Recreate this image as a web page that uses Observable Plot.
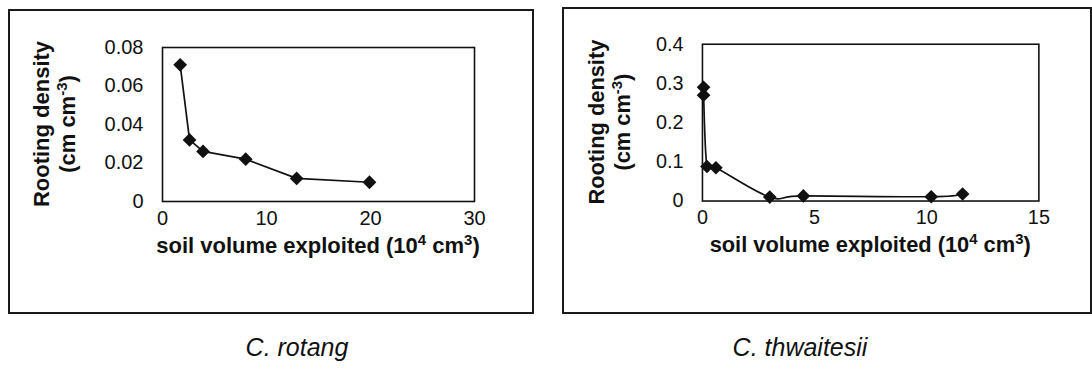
<!DOCTYPE html>
<html><head><meta charset="utf-8">
<script src="https://cdn.jsdelivr.net/npm/d3@7"></script>
<script src="https://cdn.jsdelivr.net/npm/@observablehq/plot@0.6"></script>
<style>
body{margin:0;background:#fff;width:1092px;height:370px;overflow:hidden;position:relative;font-family:Arial,"Liberation Sans",sans-serif}
.panel{position:absolute;border:2px solid #1a1a1a;background:#fff}
.panel svg{display:block}
.cap{position:absolute;font-style:italic;font-size:25px;transform:translate(-50%,-50%);white-space:nowrap;color:#111}
</style></head><body>
<div id="p1" class="panel" style="left:8px;top:9px"></div>
<div id="p2" class="panel" style="left:562px;top:7px"></div>
<div class="cap" style="left:297px;top:347px">C. rotang</div>
<div class="cap" style="left:800px;top:347px">C. thwaitesii</div>
<script>
// C. rotang
const rotangVolume = [1.7, 2.6, 3.9, 8.0, 12.9, 19.9];
const rotangDensity = [0.071, 0.032, 0.026, 0.022, 0.012, 0.010];
const rotangXTicks = [0, 10, 20, 30];
const rotangYTicks = [0, 0.02, 0.04, 0.06, 0.08];
const rotangYTickLabels = ["0", "0.02", "0.04", "0.06", "0.08"];

// C. thwaitesii
const thwVolume = [0.05, 0.05, 0.2, 0.6, 3.0, 4.5, 10.2, 11.6];
const thwDensity = [0.29, 0.27, 0.088, 0.085, 0.010, 0.013, 0.011, 0.018];
const thwXTicks = [0, 5, 10, 15];
const thwYTicks = [0, 0.1, 0.2, 0.3, 0.4];
const thwYTickLabels = ["0", "0.1", "0.2", "0.3", "0.4"];

const yLabel1 = "Rooting density";
const yLabel2 = ["(cm cm", "-3", ")"];
const xLabel = ["soil volume exploited (10", "4", " cm", "3", ")"];

const FONT = "Arial, 'Liberation Sans', sans-serif";

function panel(el, cfg) {
  const data = cfg.x.map((x, i) => ({x, y: cfg.y[i]}));
  const chart = Plot.plot({
    width: cfg.width, height: cfg.height,
    marginLeft: cfg.ml, marginRight: cfg.mr, marginTop: cfg.mt, marginBottom: cfg.mb,
    style: `font: 20px ${FONT}; color:#111; background:#fff; overflow:visible;`,
    x: {domain: cfg.xDomain, label: null},
    y: {domain: cfg.yDomain, label: null},
    marks: [
      Plot.frame({stroke: "#111", strokeWidth: 1.6}),
      Plot.axisX({ticks: cfg.xTicks, tickSize: 0, tickPadding: 9, label: null, tickFormat: d => String(d)}),
      Plot.axisY({ticks: cfg.yTicks, tickSize: 0, tickPadding: 19, label: null,
        tickFormat: d => cfg.yLabels[cfg.yTicks.indexOf(d)]}),
      Plot.line(data, {x: "x", y: "y", curve: cfg.curve, stroke: "#111", strokeWidth: 1.7}),
      Plot.dot(data, {x: "x", y: "y", symbol: "diamond2", r: 6.2, fill: "#111", stroke: "none"})
    ]
  });
  const svg = d3.select(chart);
  const g = svg.append("g").attr("font-weight", "bold").attr("font-size", 22).attr("fill", "#111")
    .attr("font-family", FONT);
  const cy = (cfg.mt + cfg.height - cfg.mb) / 2;
  g.append("text").attr("text-anchor", "middle").attr("dy", "0.35em")
    .attr("transform", `translate(${cfg.yl1},${cy}) rotate(-90)`).text(yLabel1);
  const t2 = g.append("text").attr("text-anchor", "middle").attr("dy", "0.35em")
    .attr("transform", `translate(${cfg.yl2},${cy}) rotate(-90)`);
  t2.append("tspan").text(yLabel2[0]);
  t2.append("tspan").attr("font-size", 15).attr("dy", -8).text(yLabel2[1]);
  t2.append("tspan").attr("dy", 8).text(yLabel2[2]);
  const cx = (cfg.ml + cfg.width - cfg.mr) / 2;
  const t3 = g.append("text").attr("text-anchor", "middle").attr("x", cx).attr("y", cfg.xly);
  t3.append("tspan").text(xLabel[0]);
  t3.append("tspan").attr("font-size", 15).attr("dy", -8).text(xLabel[1]);
  t3.append("tspan").attr("dy", 8).text(xLabel[2]);
  t3.append("tspan").attr("font-size", 15).attr("dy", -8).text(xLabel[3]);
  t3.append("tspan").attr("dy", 8).text(xLabel[4]);
  el.appendChild(chart);
}

panel(document.getElementById("p1"), {
  x: rotangVolume, y: rotangDensity, width: 522, height: 301,
  ml: 152, mr: 58, mt: 36, mb: 111,
  xDomain: [0, 30], yDomain: [0, 0.08], xTicks: rotangXTicks, yTicks: rotangYTicks, yLabels: rotangYTickLabels,
  curve: "linear", yl1: 31, yl2: 57, xly: 242
});
panel(document.getElementById("p2"), {
  x: thwVolume, y: thwDensity, width: 530, height: 305,
  ml: 139, mr: 52, mt: 35, mb: 112,
  xDomain: [0, 15], yDomain: [0, 0.4], xTicks: thwXTicks, yTicks: thwYTicks, yLabels: thwYTickLabels,
  curve: "cardinal", yl1: 33, yl2: 59, xly: 245
});
</script>
</body></html>
